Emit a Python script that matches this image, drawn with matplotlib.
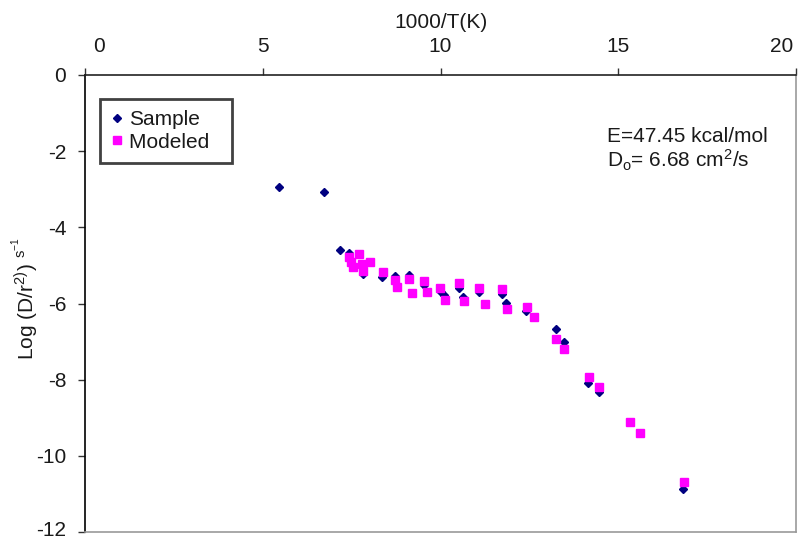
import matplotlib
matplotlib.use("Agg")
import matplotlib.pyplot as plt
import matplotlib.transforms as mtransforms

plt.rcParams['font.family'] = ['Liberation Sans', 'DejaVu Sans']
plt.rcParams['mathtext.fontset'] = 'custom'
plt.rcParams['mathtext.rm'] = 'Liberation Sans'
plt.rcParams['mathtext.it'] = 'Liberation Sans'
plt.rcParams['mathtext.sf'] = 'Liberation Sans'
plt.rcParams['axes.unicode_minus'] = False

# Data (1000/T, log D/r^2)
sample_x = [5.46, 6.72, 7.17, 7.43, 7.82, 8.35, 8.72, 9.11, 9.54, 10.01, 10.10,
            10.52, 10.63, 11.08, 11.73, 11.84, 12.41, 13.24, 13.47, 14.15, 14.46, 16.82]
sample_y = [-2.95, -3.07, -4.60, -4.67, -5.23, -5.30, -5.28, -5.25, -5.51, -5.70, -5.78,
            -5.59, -5.83, -5.70, -5.75, -5.99, -6.20, -6.67, -7.01, -8.09, -8.32, -10.87]

model_x = [7.72, 7.43, 7.47, 7.53, 7.78, 7.81, 8.03, 8.37, 8.73, 8.79, 9.12, 9.20,
           9.54, 9.63, 9.99, 10.12, 10.52, 10.65, 11.08, 11.24, 11.74, 11.87, 12.42,
           12.64, 13.24, 13.48, 14.18, 14.46, 15.33, 15.60, 16.84]
model_y = [-4.70, -4.77, -4.92, -5.03, -4.95, -5.14, -4.92, -5.18, -5.37, -5.56, -5.35,
           -5.72, -5.40, -5.69, -5.58, -5.90, -5.47, -5.93, -5.58, -6.00, -5.63, -6.15,
           -6.09, -6.35, -6.93, -7.20, -7.92, -8.18, -9.11, -9.39, -10.70]

x_ticks = [0, 5, 10, 15, 20]
y_ticks = [0, -2, -4, -6, -8, -10, -12]

fig = plt.figure(figsize=(8.01, 5.41), dpi=100)
ax = fig.add_axes([85/801, 1 - 532/541, (796 - 85)/801, (532 - 75)/541])

txt = '#1a1a1a'
FS = 15
ax.plot(sample_x, sample_y, linestyle='none', marker='D', markersize=4.2,
        color='#000080', label='Sample', zorder=3)
ax.plot(model_x, model_y, linestyle='none', marker='s', markersize=6.2,
        color='#ff00ff', label='Modeled', zorder=4)

ax.set_xlim(0, 20)
ax.set_ylim(-12, 0)
ax.set_xticks(x_ticks)
ax.set_yticks(y_ticks)
ax.xaxis.tick_top()
ax.xaxis.set_label_position('top')
ax.tick_params(axis='x', direction='out', length=5, width=1, colors='#333333',
               labelsize=FS, labelcolor=txt, pad=8.5)
ax.tick_params(axis='y', direction='out', length=5, width=1, colors='#333333',
               labelsize=FS, labelcolor=txt, pad=8.5)
ax.set_xlabel('1000/T(K)', fontsize=FS, color=txt, labelpad=7)
ax.set_ylabel(r'Log (D/r$^{2)}$) $^{\mathregular{s^{-1}}}$', fontsize=FS, color=txt)
ax.yaxis.set_label_coords((41 - 85) / 711, 0.51)

# Excel-style: end labels pulled inside
fig.canvas.draw()
xt = ax.xaxis.get_major_ticks()
xt[0].label2.set_transform(xt[0].label2.get_transform() +
                           mtransforms.ScaledTranslation(0.14, 0, fig.dpi_scale_trans))
xt[-1].label2.set_transform(xt[-1].label2.get_transform() +
                            mtransforms.ScaledTranslation(-0.14, 0, fig.dpi_scale_trans))
yt = ax.yaxis.get_major_ticks()
yt[-1].label1.set_transform(yt[-1].label1.get_transform() +
                            mtransforms.ScaledTranslation(0, 0.03, fig.dpi_scale_trans))

ax.spines['left'].set_color('#000000')
ax.spines['top'].set_color('#222222')
ax.spines['right'].set_color('#999999')
ax.spines['bottom'].set_color('#999999')
for s in ax.spines.values():
    s.set_linewidth(1.2)

leg = ax.legend(loc='upper left', bbox_to_anchor=(15/711, 1 - 24/457), fontsize=FS,
                frameon=True, fancybox=False, handlelength=0.5, handletextpad=0.35,
                borderpad=0.55, labelspacing=0.15, borderaxespad=0)
leg.get_frame().set_edgecolor('#111111')
leg.get_frame().set_linewidth(2)
for t in leg.get_texts():
    t.set_color(txt)
leg.get_texts()[1].set_text('Modeled  ')

fig.text(607/801, 1 - 136/541, 'E=47.45 kcal/mol',
         fontsize=FS, color=txt, va='center', ha='left')
fig.text(607/801, 1 - 160/541, r'D$_{\mathregular{o}}$= 6.68 cm$^{\mathregular{2}}$/s',
         fontsize=FS, color=txt, va='center', ha='left')

fig.savefig('out.png', dpi=100)
